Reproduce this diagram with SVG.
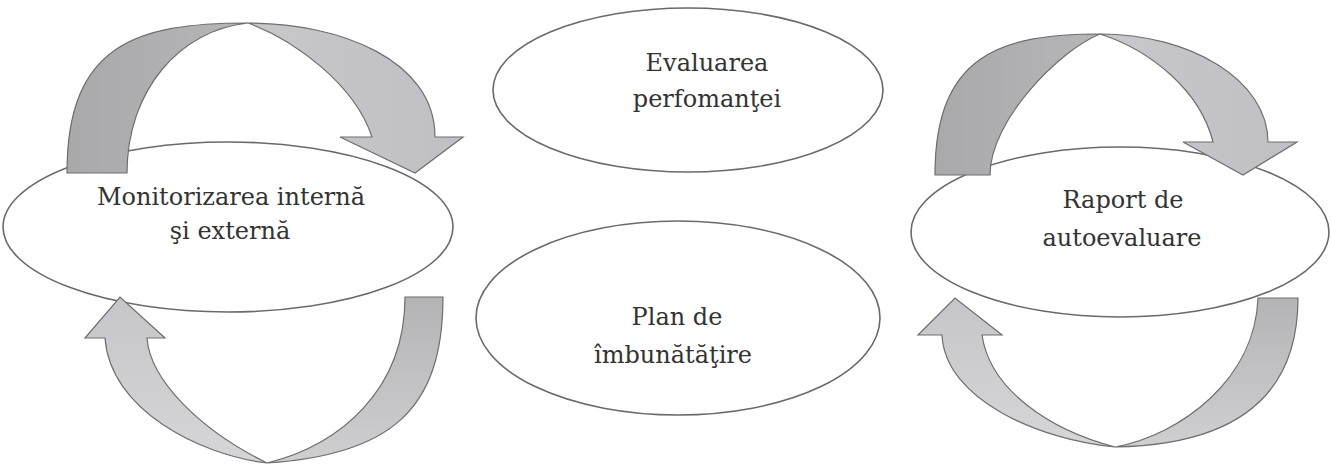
<svg xmlns="http://www.w3.org/2000/svg" width="1331" height="465" viewBox="0 0 1331 465">
  <defs>
    <linearGradient id="gDark" x1="0" y1="0" x2="1" y2="0">
      <stop offset="0" stop-color="#a9a9ab"/>
      <stop offset="1" stop-color="#b6b6b8"/>
    </linearGradient>
    <linearGradient id="gLight" x1="0" y1="0" x2="1" y2="0">
      <stop offset="0" stop-color="#c8c8cc"/>
      <stop offset="1" stop-color="#c0c0c4"/>
    </linearGradient>
    <linearGradient id="gBotL" x1="0" y1="0" x2="0" y2="1">
      <stop offset="0" stop-color="#c6c6ca"/>
      <stop offset="1" stop-color="#d6d6d8"/>
    </linearGradient>
    <linearGradient id="gBotR" x1="0" y1="0" x2="0" y2="1">
      <stop offset="0" stop-color="#b4b4b6"/>
      <stop offset="1" stop-color="#cfcfd1"/>
    </linearGradient>
  </defs>
  <style>
    .node ellipse { fill: #ffffff; stroke: #6a6a6a; stroke-width: 1.6; }
    .node text { font-family: "DejaVu Serif", "Liberation Serif", serif; font-size: 24px; fill: #333333; text-anchor: middle; }
    .arrow path { stroke: #6e6e6e; stroke-width: 1.2; stroke-linejoin: miter; }
  </style>
  <rect width="1331" height="465" fill="#ffffff"/>

  <g id="node-monitorizarea" class="node">
    <ellipse cx="228" cy="227" rx="225" ry="85"/>
    <text x="231" y="205">Monitorizarea internă</text>
    <text x="230" y="239">şi externă</text>
  </g>

  <g id="node-evaluarea" class="node">
    <ellipse cx="688" cy="90" rx="195" ry="82"/>
    <text x="707" y="71">Evaluarea</text>
    <text x="707" y="107">perfomanţei</text>
  </g>

  <g id="node-plan" class="node">
    <ellipse cx="678" cy="318" rx="202" ry="97"/>
    <text x="677" y="325">Plan de</text>
    <text x="673" y="363">îmbunătăţire</text>
  </g>

  <g id="node-raport" class="node">
    <ellipse cx="1120" cy="232" rx="209" ry="85"/>
    <text x="1123" y="208">Raport de</text>
    <text x="1122" y="246">autoevaluare</text>
  </g>

  <g id="connectors">
    <g class="arrow" id="arrow-left-top">
      <path fill="url(#gDark)" d="M67,173 C67,45 135,23 248,23 C180,30 127,90 127,173 Z"/>
      <path fill="url(#gLight)" d="M248,23 C340,23 435,60 435,137 L463,137 L415,173 L340,137 L372,137 C355,85 295,40 248,23 Z"/>
    </g>
    <g class="arrow" id="arrow-left-bottom">
      <path fill="url(#gBotR)" d="M405,297 L443,297 C443,410 390,455 267,463 C340,445 405,390 405,297 Z"/>
      <path fill="url(#gBotL)" d="M267,463 C200,455 110,410 105,338 L85,338 L120,297 L165,338 L147,338 C150,380 200,430 267,463 Z"/>
    </g>
    <g class="arrow" id="arrow-right-top">
      <path fill="url(#gDark)" d="M935,175 C935,55 1000,34 1100,34 C1060,50 990,120 990,175 Z"/>
      <path fill="url(#gLight)" d="M1100,34 C1190,34 1268,80 1268,142 L1297,142 L1243,175 L1183,142 L1213,142 C1200,90 1150,50 1100,34 Z"/>
    </g>
    <g class="arrow" id="arrow-right-bottom">
      <path fill="url(#gBotR)" d="M1258,298 L1298,298 C1298,400 1230,445 1115,447 C1180,435 1255,380 1258,298 Z"/>
      <path fill="url(#gBotL)" d="M1115,447 C1040,440 945,400 942,335 L918,335 L955,298 L1002,335 L982,335 C990,390 1050,430 1115,447 Z"/>
    </g>
  </g>
</svg>
